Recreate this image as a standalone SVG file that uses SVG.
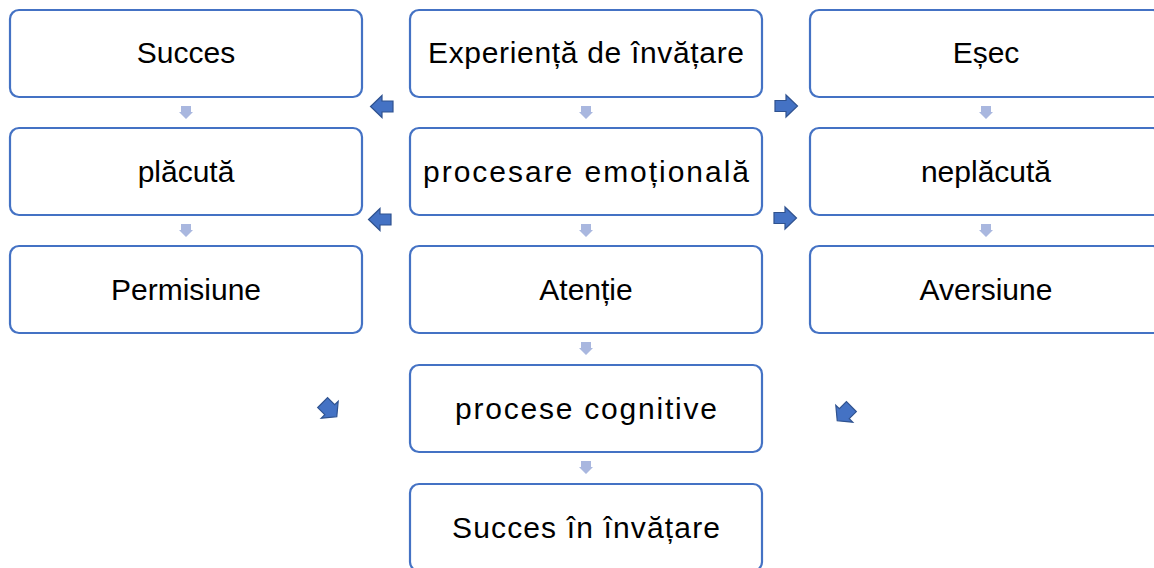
<svg xmlns="http://www.w3.org/2000/svg" width="1154" height="568" viewBox="0 0 1154 568">
<defs>
<style>
.box{fill:#fff;stroke:#4472C4;stroke-width:2.2}
.t{font-family:"Liberation Sans",Arial,sans-serif;font-size:30px;fill:#000;text-anchor:middle}
.da{fill:#A9B7DF}
.ba{fill:#4472C4;stroke:#2F528F;stroke-width:1.2;stroke-linejoin:miter}
</style>
<path id="dn" d="M-5,0 H5 V6 H7 L0,13 L-7,6 H-5 Z"/>
<path id="ra" d="M-11,-5.5 H0 V-11 L11.5,0 L0,11 V5.5 H-11 Z"/>
<path id="dg" d="M-9,-7 H1 V-12 L11,0 L1,12 V7 H-9 Z"/>
</defs>
<rect width="1154" height="568" fill="#fff"/>
<g id="connectors">
<use href="#dn" class="da" x="186" y="106"/>
<use href="#dn" class="da" x="186" y="224"/>
<use href="#dn" class="da" x="586" y="106"/>
<use href="#dn" class="da" x="586" y="224"/>
<use href="#dn" class="da" x="586" y="342"/>
<use href="#dn" class="da" x="586" y="461"/>
<use href="#dn" class="da" x="986" y="106"/>
<use href="#dn" class="da" x="986" y="224"/>
<use href="#ra" class="ba" transform="translate(382,106.5) rotate(180)"/>
<use href="#ra" class="ba" transform="translate(380,219.5) rotate(180)"/>
<use href="#ra" class="ba" transform="translate(786,106)"/>
<use href="#ra" class="ba" transform="translate(785,218)"/>
<use href="#dg" class="ba" transform="translate(329,409) rotate(45)"/>
<use href="#dg" class="ba" transform="translate(845,413) rotate(135)"/>
</g>
<g id="n-succes"><rect class="box" x="10" y="10" width="352" height="87" rx="9"/><text class="t" x="186" y="63">Succes</text></g>
<g id="n-placuta"><rect class="box" x="10" y="128" width="352" height="87" rx="9"/><text class="t" x="186" y="182">plăcută</text></g>
<g id="n-permisiune"><rect class="box" x="10" y="246" width="352" height="87" rx="9"/><text class="t" x="186" y="300">Permisiune</text></g>
<g id="n-experienta"><rect class="box" x="410" y="10" width="352" height="87" rx="9"/><text class="t" x="586" y="63" textLength="316" lengthAdjust="spacing">Experiență de învățare</text></g>
<g id="n-procesare"><rect class="box" x="410" y="128" width="352" height="87" rx="9"/><text class="t" x="586" y="182" textLength="326" lengthAdjust="spacing">procesare emoțională</text></g>
<g id="n-atentie"><rect class="box" x="410" y="246" width="352" height="87" rx="9"/><text class="t" x="586" y="300">Atenție</text></g>
<g id="n-cognitive"><rect class="box" x="410" y="365" width="352" height="87" rx="9"/><text class="t" x="586" y="419" textLength="262" lengthAdjust="spacing">procese cognitive</text></g>
<g id="n-succes-invatare"><rect class="box" x="410" y="484" width="352" height="87" rx="9"/><text class="t" x="586" y="538" textLength="268" lengthAdjust="spacing">Succes în învățare</text></g>
<g id="n-esec"><rect class="box" x="810" y="10" width="352" height="87" rx="9"/><text class="t" x="986" y="63">Eșec</text></g>
<g id="n-neplacuta"><rect class="box" x="810" y="128" width="352" height="87" rx="9"/><text class="t" x="986" y="182">neplăcută</text></g>
<g id="n-aversiune"><rect class="box" x="810" y="246" width="352" height="87" rx="9"/><text class="t" x="986" y="300">Aversiune</text></g>
</svg>
